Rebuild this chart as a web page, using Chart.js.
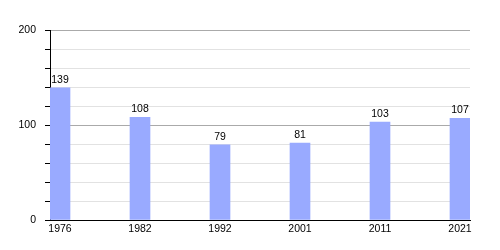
<!DOCTYPE html>
<html>
<head>
<meta charset="utf-8">
<script src="https://cdn.jsdelivr.net/npm/chart.js@4"></script>
<style>
  html, body { margin: 0; padding: 0; background: #fff; }
</style>
</head>
<body>
<canvas id="popChart" width="500" height="250"></canvas>
<script>
// population counts by census year
const years = ["1976", "1982", "1992", "2001", "2011", "2021"];
const population = [139, 108, 79, 81, 103, 107];
const yTicks = [0, 100, 200];

Chart.defaults.font.family = "'Liberation Sans', Arial, sans-serif";
Chart.defaults.font.size = 10.5;
Chart.defaults.color = "#000";

// draws the value above each bar
const valueLabels = {
  id: "valueLabels",
  afterDatasetsDraw(chart) {
    const ctx = chart.ctx;
    ctx.save();
    ctx.font = "10.5px 'Liberation Sans', Arial, sans-serif";
    ctx.fillStyle = "#000";
    ctx.textAlign = "center";
    ctx.textBaseline = "alphabetic";
    chart.getDatasetMeta(0).data.forEach((bar, i) => {
      ctx.fillText(population[i], bar.x, bar.y - 5);
    });
    ctx.restore();
  }
};

let ctx = document.getElementById("popChart").getContext("2d");
new Chart(ctx, {
  type: "bar",
  data: {
    datasets: [
      {
        data: population.map((v, i) => ({ x: i, y: v })),
        backgroundColor: "#99aaff",
        barThickness: 20,
        borderWidth: 0,
      },
    ],
  },
  options: {
    responsive: false,
    animation: false,
    layout: { padding: { top: 30, right: 30, left: 0, bottom: 0 } },
    plugins: {
      legend: { display: false },
      tooltip: { enabled: false },
    },
    scales: {
      x: {
        type: "linear",
        offset: false,
        min: -0.125,
        max: 5.125,
        afterBuildTicks: (axis) => {
          axis.ticks = years.map((y, i) => ({ value: i }));
        },
        afterFit: (axis) => { axis.height = 30; },
        grid: { display: false, drawTicks: false, offset: false },
        border: { color: "#000", width: 1 },
        ticks: {
          autoSkip: false,
          maxRotation: 0,
          padding: 3,
          callback: (v) => years[v],
        },
      },
      y: {
        min: 0,
        max: 200,
        afterFit: (axis) => { axis.width = 50; },
        border: { color: "#000", width: 1 },
        grid: {
          color: (c) => (c.tick && yTicks.includes(c.tick.value) ? "#aaaaaa" : "#e2e2e2"),
          tickColor: "#000",
          tickLength: 5,
        },
        ticks: {
          stepSize: 20,
          padding: 9,
          callback: (v) => (yTicks.includes(v) ? v : ""),
        },
      },
    },
  },
  plugins: [valueLabels],
});
</script>
</body>
</html>
